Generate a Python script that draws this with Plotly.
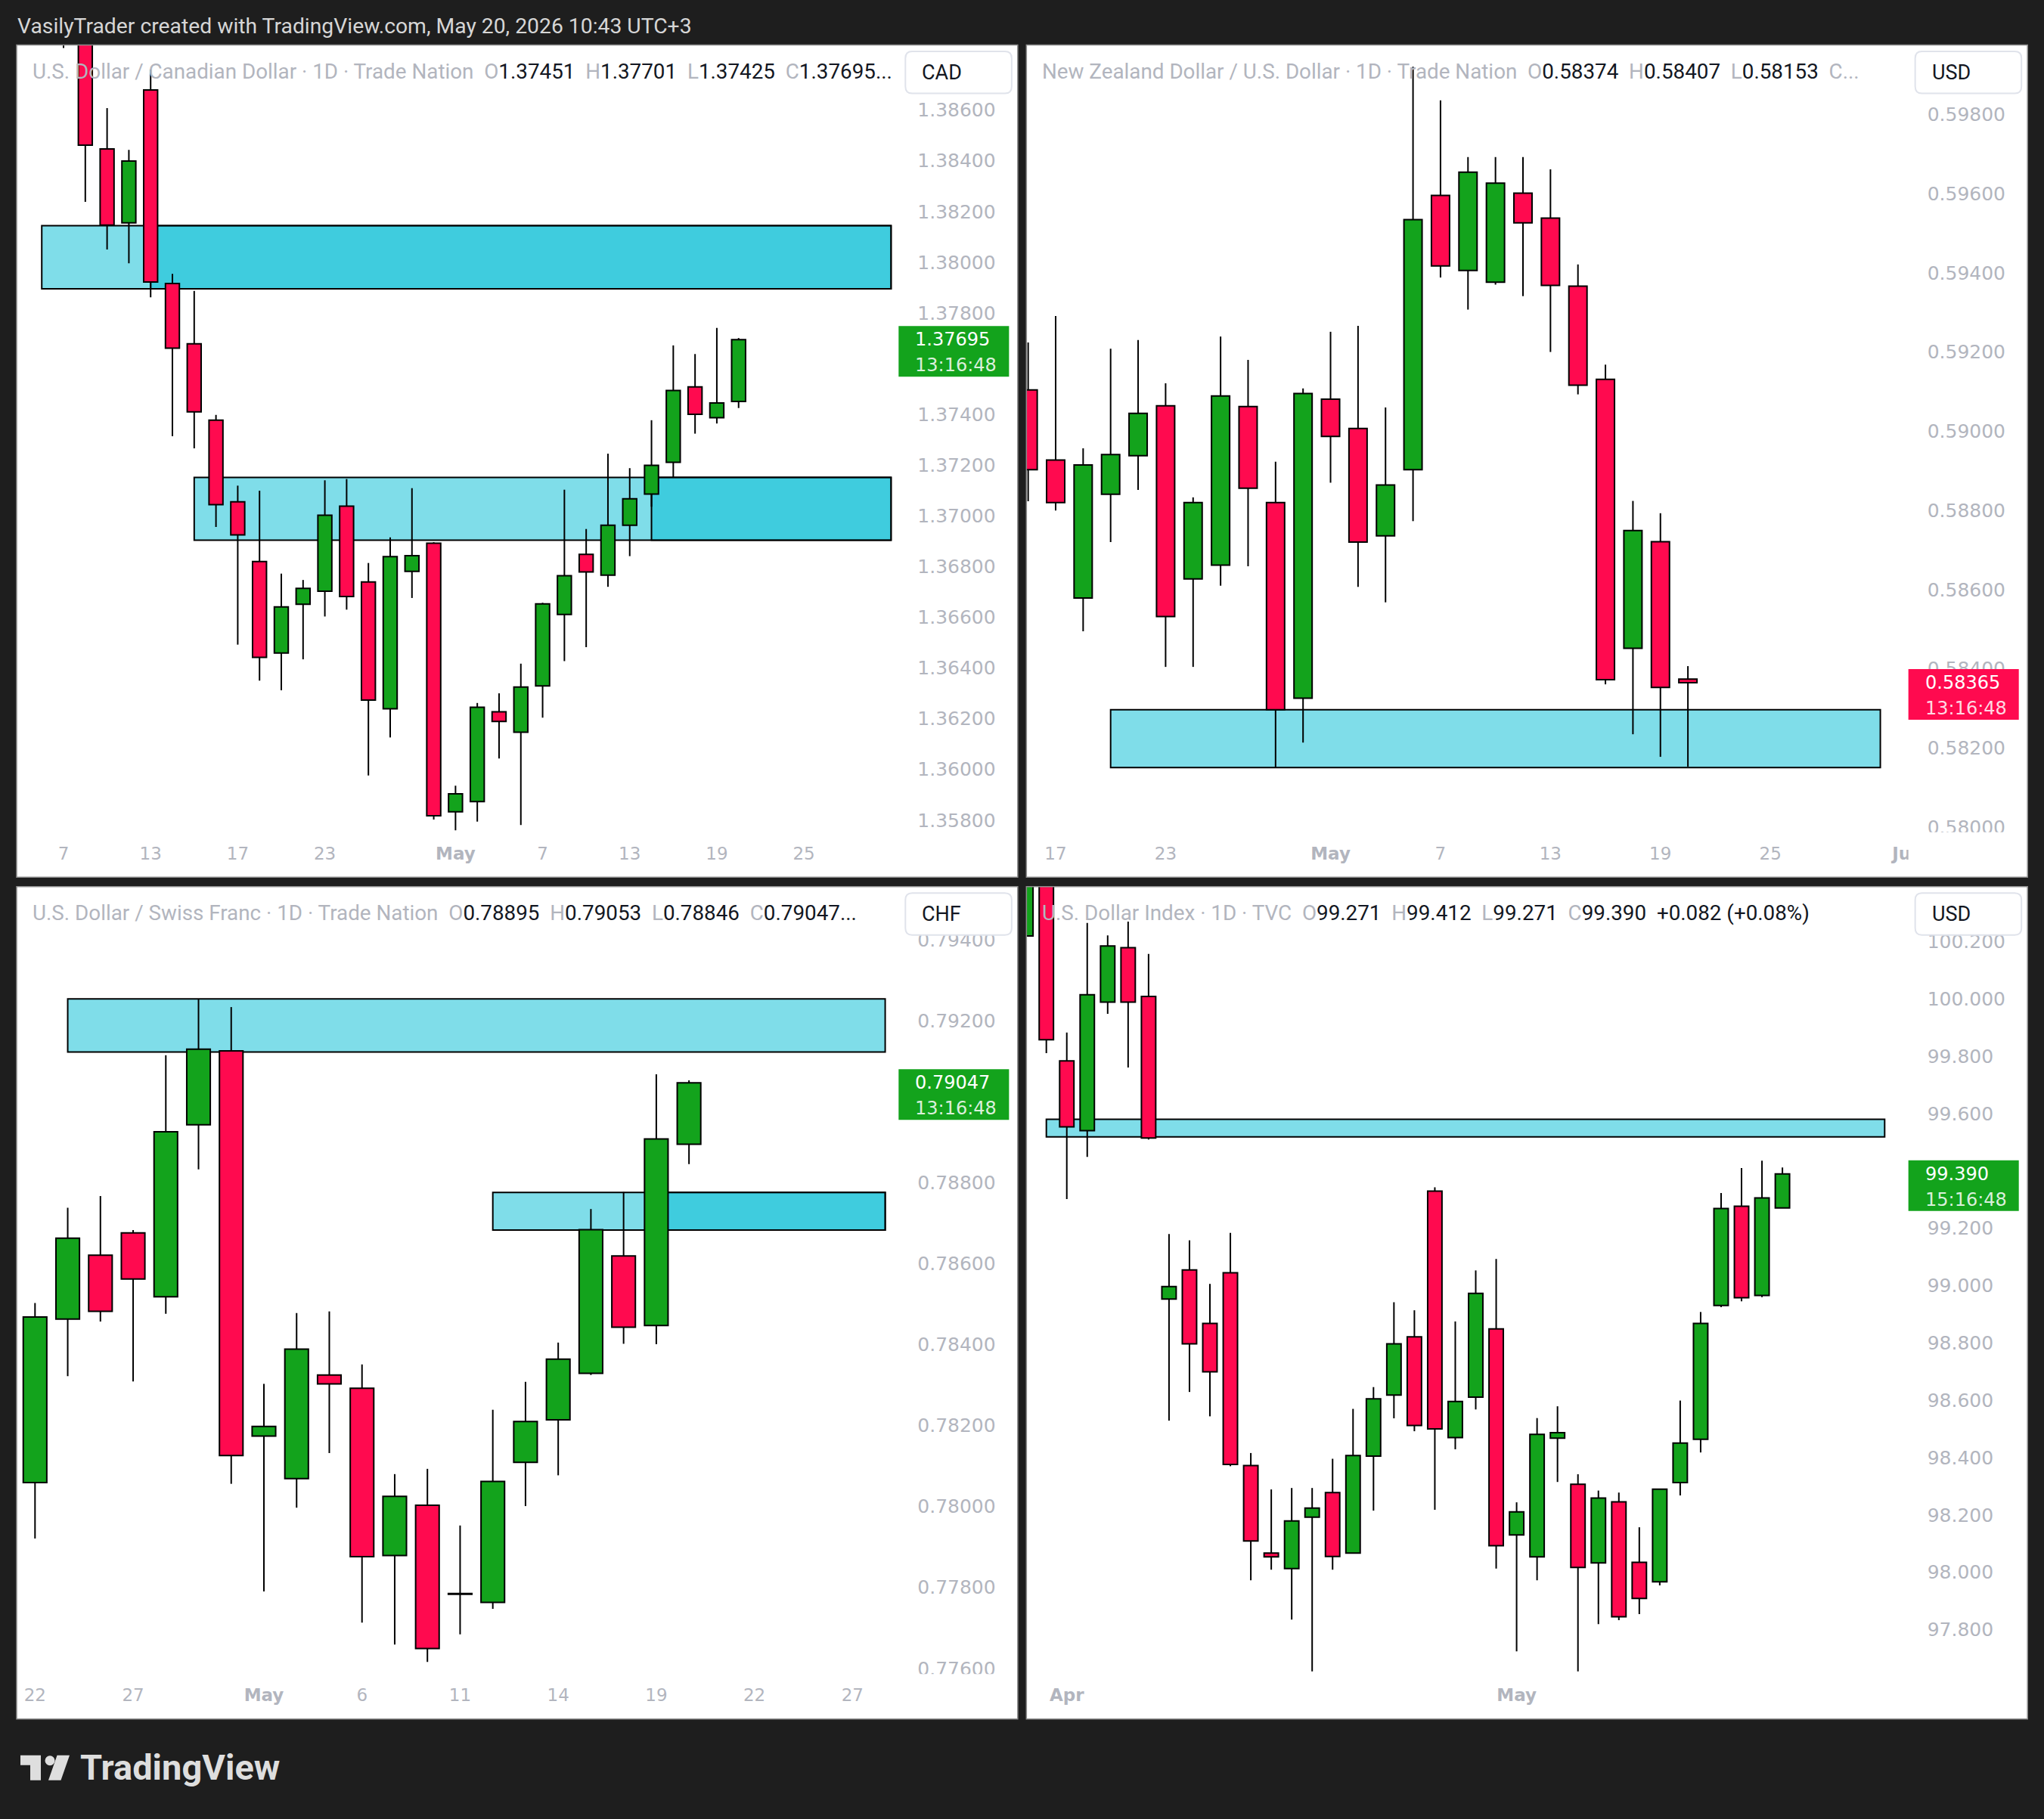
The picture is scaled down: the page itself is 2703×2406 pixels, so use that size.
import numpy as np
import plotly.graph_objects as go

# ====================== DATA ======================
# ---- USD/CAD (1D) ----
CAD_DATES = ["2026-04-07", "2026-04-08", "2026-04-09", "2026-04-10", "2026-04-13", "2026-04-14",
             "2026-04-15", "2026-04-16", "2026-04-17", "2026-04-20", "2026-04-21", "2026-04-22",
             "2026-04-23", "2026-04-24", "2026-04-27", "2026-04-28", "2026-04-29", "2026-04-30",
             "2026-05-01", "2026-05-04", "2026-05-05", "2026-05-06", "2026-05-07", "2026-05-08",
             "2026-05-11", "2026-05-12", "2026-05-13", "2026-05-14", "2026-05-15", "2026-05-18",
             "2026-05-19", "2026-05-20"]
CAD_OPEN = [1.39020, 1.38950, 1.38447, 1.38155, 1.38679, 1.37916, 1.37678, 1.37377, 1.37055, 1.36820,
            1.36459, 1.36651, 1.36703, 1.37038, 1.36739, 1.36239, 1.36781, 1.36892, 1.35833, 1.35873,
            1.36227, 1.36147, 1.36329, 1.36611, 1.36848, 1.36766, 1.36963, 1.37086, 1.37211, 1.37508,
            1.37387, 1.37451]
CAD_HIGH = [1.39150, 1.39050, 1.38608, 1.38443, 1.38760, 1.37954, 1.37887, 1.37398, 1.37119, 1.37099,
            1.36772, 1.36747, 1.37140, 1.37145, 1.36814, 1.36915, 1.37109, 1.36896, 1.35936, 1.36262,
            1.36300, 1.36417, 1.36657, 1.37103, 1.36948, 1.37245, 1.37188, 1.37377, 1.37672, 1.37638,
            1.37741, 1.37701]
CAD_LOW = [1.38845, 1.38238, 1.38050, 1.37996, 1.37862, 1.37314, 1.37266, 1.36956, 1.36492, 1.36350,
           1.36312, 1.36434, 1.36603, 1.36630, 1.35976, 1.36126, 1.36676, 1.35802, 1.35760, 1.35794,
           1.36043, 1.35781, 1.36204, 1.36427, 1.36482, 1.36720, 1.36841, 1.37036, 1.37151, 1.37324,
           1.37364, 1.37425]
CAD_CLOSE = [1.38960, 1.38462, 1.38146, 1.38399, 1.37922, 1.37661, 1.37410, 1.37044, 1.36925, 1.36442,
             1.36641, 1.36714, 1.37002, 1.36682, 1.36273, 1.36839, 1.36843, 1.35817, 1.35904, 1.36245,
             1.36189, 1.36325, 1.36653, 1.36764, 1.36779, 1.36963, 1.37067, 1.37199, 1.37494, 1.37400,
             1.37445, 1.37695]
CAD_ZONE_START = ["2026-04-06", "2026-04-13", "2026-04-15", "2026-05-14"]
CAD_ZONE_END = ["2026-05-29", "2026-05-29", "2026-05-29", "2026-05-29"]
CAD_ZONE_LOW = [1.37895, 1.37895, 1.36904, 1.36904]
CAD_ZONE_HIGH = [1.38144, 1.38144, 1.37151, 1.37151]
CAD_XTICK_DATES = ["2026-04-07", "2026-04-13", "2026-04-17", "2026-04-23", "2026-05-01",
                   "2026-05-07", "2026-05-13", "2026-05-19", "2026-05-25"]
CAD_XTICK_TEXT = ["7", "13", "17", "23", "<b>May</b>", "7", "13", "19", "25"]
CAD_YTICKS = [1.358, 1.360, 1.362, 1.364, 1.366, 1.368, 1.370, 1.372, 1.374,
              1.378, 1.380, 1.382, 1.384, 1.386]

# ---- NZD/USD (1D) ----
NZD_DATES = ["2026-04-16", "2026-04-17", "2026-04-20", "2026-04-21", "2026-04-22", "2026-04-23",
             "2026-04-24", "2026-04-27", "2026-04-28", "2026-04-29", "2026-04-30", "2026-05-01",
             "2026-05-04", "2026-05-05", "2026-05-06", "2026-05-07", "2026-05-08", "2026-05-11",
             "2026-05-12", "2026-05-13", "2026-05-14", "2026-05-15", "2026-05-18", "2026-05-19",
             "2026-05-20"]
NZD_OPEN = [0.59104, 0.58927, 0.58579, 0.58841, 0.58938, 0.59064, 0.58627, 0.58662, 0.59062, 0.58820,
            0.58326, 0.59081, 0.59007, 0.58736, 0.58903, 0.59595, 0.59406, 0.59376, 0.59601, 0.59538,
            0.59366, 0.59131, 0.58452, 0.58721, 0.58374]
NZD_HIGH = [0.59224, 0.59291, 0.58957, 0.59208, 0.59230, 0.59121, 0.58833, 0.59239, 0.59180, 0.58923,
            0.59108, 0.59251, 0.59266, 0.59060, 0.59920, 0.59835, 0.59692, 0.59692, 0.59692, 0.59661,
            0.59421, 0.59168, 0.58824, 0.58793, 0.58407]
NZD_LOW = [0.58823, 0.58800, 0.58495, 0.58720, 0.58852, 0.58405, 0.58405, 0.58610, 0.58659, 0.58151,
           0.58214, 0.58870, 0.58607, 0.58568, 0.58773, 0.59388, 0.59307, 0.59370, 0.59341, 0.59200,
           0.59093, 0.58361, 0.58235, 0.58178, 0.58153]
NZD_CLOSE = [0.58903, 0.58820, 0.58915, 0.58941, 0.59045, 0.58532, 0.58820, 0.59089, 0.58856, 0.58297,
             0.59095, 0.58987, 0.58720, 0.58864, 0.59534, 0.59417, 0.59654, 0.59626, 0.59526, 0.59368,
             0.59116, 0.58373, 0.58749, 0.58353, 0.58365]
NZD_ZONE_START = ["2026-04-21"]
NZD_ZONE_END = ["2026-05-29"]
NZD_ZONE_LOW = [0.58151]
NZD_ZONE_HIGH = [0.58297]
NZD_XTICK_DATES = ["2026-04-17", "2026-04-23", "2026-05-01", "2026-05-07", "2026-05-13",
                   "2026-05-19", "2026-05-25", "2026-06-01"]
NZD_XTICK_TEXT = ["17", "23", "<b>May</b>", "7", "13", "19", "25", "<b>Jun</b>"]
NZD_YTICKS = [0.580, 0.582, 0.584, 0.586, 0.588, 0.590, 0.592, 0.594, 0.596, 0.598]

# ---- USD/CHF (1D) ----
CHF_DATES = ["2026-04-22", "2026-04-23", "2026-04-24", "2026-04-27", "2026-04-28", "2026-04-29",
             "2026-04-30", "2026-05-01", "2026-05-04", "2026-05-05", "2026-05-06", "2026-05-07",
             "2026-05-08", "2026-05-11", "2026-05-12", "2026-05-13", "2026-05-14", "2026-05-15",
             "2026-05-18", "2026-05-19", "2026-05-20"]
CHF_OPEN = [0.78059, 0.78463, 0.78621, 0.78676, 0.78518, 0.78943, 0.79126, 0.78174, 0.78069, 0.78325,
            0.78292, 0.77879, 0.78003, 0.77783, 0.77763, 0.78109, 0.78214, 0.78329, 0.78619, 0.78447,
            0.78895]
CHF_HIGH = [0.78503, 0.78738, 0.78767, 0.78683, 0.79115, 0.79254, 0.79234, 0.78303, 0.78478, 0.78482,
            0.78351, 0.78080, 0.78093, 0.77953, 0.78239, 0.78308, 0.78405, 0.78735, 0.78777, 0.79068,
            0.79053]
CHF_LOW = [0.77921, 0.78322, 0.78457, 0.78309, 0.78476, 0.78833, 0.78056, 0.77790, 0.77997, 0.78132,
           0.77713, 0.77659, 0.77616, 0.77684, 0.77747, 0.78001, 0.78077, 0.78325, 0.78402, 0.78401,
           0.78846]
CHF_CLOSE = [0.78468, 0.78663, 0.78482, 0.78562, 0.78926, 0.79130, 0.78126, 0.78198, 0.78389, 0.78303,
             0.77876, 0.78025, 0.77649, 0.77783, 0.78062, 0.78210, 0.78364, 0.78684, 0.78443, 0.78908,
             0.79047]
CHF_ZONE_START = ["2026-04-23", "2026-05-12", "2026-05-19"]
CHF_ZONE_END = ["2026-05-28", "2026-05-28", "2026-05-28"]
CHF_ZONE_LOW = [0.79123, 0.78683, 0.78683]
CHF_ZONE_HIGH = [0.79254, 0.78776, 0.78776]
CHF_XTICK_DATES = ["2026-04-22", "2026-04-27", "2026-05-01", "2026-05-06", "2026-05-11",
                   "2026-05-14", "2026-05-19", "2026-05-22", "2026-05-27"]
CHF_XTICK_TEXT = ["22", "27", "<b>May</b>", "6", "11", "14", "19", "22", "27"]
CHF_YTICKS = [0.776, 0.778, 0.780, 0.782, 0.784, 0.786, 0.788, 0.792, 0.794]

# ---- U.S. Dollar Index (1D) ----
DXY_DATES = ["2026-03-30", "2026-03-31", "2026-04-01", "2026-04-02", "2026-04-03", "2026-04-06",
             "2026-04-07", "2026-04-08", "2026-04-09", "2026-04-10", "2026-04-13", "2026-04-14",
             "2026-04-15", "2026-04-16", "2026-04-17", "2026-04-20", "2026-04-21", "2026-04-22",
             "2026-04-23", "2026-04-24", "2026-04-27", "2026-04-28", "2026-04-29", "2026-04-30",
             "2026-05-01", "2026-05-04", "2026-05-05", "2026-05-06", "2026-05-07", "2026-05-08",
             "2026-05-11", "2026-05-12", "2026-05-13", "2026-05-14", "2026-05-15", "2026-05-18",
             "2026-05-19", "2026-05-20"]
DXY_OPEN = [100.220, 100.450, 99.784, 99.541, 99.989, 100.179, 100.009, 98.953, 99.055, 98.868,
            99.045, 98.372, 98.067, 98.013, 98.192, 98.278, 98.067, 98.405, 98.618, 98.821,
            99.330, 98.470, 98.611, 98.849, 98.130, 98.054, 98.468, 98.307, 98.033, 98.246,
            98.035, 97.967, 98.313, 98.464, 98.931, 99.277, 98.966, 99.271]
DXY_HIGH = [100.550, 100.520, 99.883, 100.265, 100.222, 100.270, 100.157, 99.180, 99.158, 99.006,
            99.184, 98.416, 98.289, 98.294, 98.294, 98.396, 98.570, 98.646, 98.942, 98.914,
            99.343, 98.875, 99.053, 99.093, 98.244, 98.538, 98.579, 98.342, 98.285, 98.278,
            98.157, 98.290, 98.599, 98.908, 99.323, 99.410, 99.436, 99.412]
DXY_LOW = [100.180, 99.811, 99.302, 99.449, 99.948, 99.761, 99.510, 98.529, 98.629, 98.544,
           98.370, 97.972, 98.009, 97.835, 97.654, 98.009, 98.065, 98.215, 98.537, 98.492,
           98.218, 98.429, 98.568, 98.013, 97.724, 97.972, 98.315, 97.654, 97.819, 97.833,
           97.854, 97.954, 98.268, 98.418, 98.925, 98.945, 98.960, 99.271]
DXY_CLOSE = [100.480, 99.858, 99.554, 100.015, 100.185, 99.989, 99.515, 98.997, 98.797, 98.699,
             98.376, 98.109, 98.054, 98.179, 98.224, 98.055, 98.407, 98.605, 98.797, 98.512,
             98.500, 98.596, 98.973, 98.093, 98.211, 98.481, 98.487, 98.017, 98.259, 97.845,
             97.909, 98.290, 98.451, 98.868, 99.269, 98.958, 99.306, 99.390]
DXY_ZONE_START = ["2026-03-31"]
DXY_ZONE_END = ["2026-05-27"]
DXY_ZONE_LOW = [99.519]
DXY_ZONE_HIGH = [99.580]
DXY_XTICK_DATES = ["2026-04-01", "2026-05-01"]
DXY_XTICK_TEXT = ["<b>Apr</b>", "<b>May</b>"]
DXY_YTICKS = [97.8, 98.0, 98.2, 98.4, 98.6, 98.8, 99.0, 99.2, 99.6, 99.8, 100.0, 100.2]
DXY_CHANGE = "+0.082 (+0.08%)"

TITLES = ["U.S. Dollar / Canadian Dollar · 1D · Trade Nation",
          "New Zealand Dollar / U.S. Dollar · 1D · Trade Nation",
          "U.S. Dollar / Swiss Franc · 1D · Trade Nation",
          "U.S. Dollar Index · 1D · TVC"]
UNITS = ["CAD", "USD", "CHF", "USD"]
COUNTDOWNS = ["13:16:48", "13:16:48", "13:16:48", "15:16:48"]
HEADER_TEXT = "VasilyTrader created with TradingView.com, May 20, 2026 10:43 UTC+3"
FOOTER_TEXT = "TradingView"

# ====================== STYLE / LAYOUT ======================
# target picture coordinates (px) are mapped onto a slightly larger page,
# compensating for the screenshot's rescaling.
SX, SY = 0.9924, 0.9968
FIG_W, FIG_H = 2724, 2414
BG = "#1e1e1e"
UP = "#13a31c"
DOWN = "#ff0a4f"
INK = "#000000"
ZONE_FILL = "rgba(0,188,212,0.5)"
GREY = "#b2b5be"
TXT = "#131722"
PANEL_BORDER = "#8d8d8d"

PANEL_W, PANEL_H = 1323.5, 1101
PANE_W, PANE_H = 1166, 1041.5


def X(v):
    return (v / SX) / FIG_W


def Y(v):
    return 1 - (v / SY) / FIG_H


PANELS = [
    dict(dates=CAD_DATES, o=CAD_OPEN, h=CAD_HIGH, l=CAD_LOW, c=CAD_CLOSE,
         zs=CAD_ZONE_START, ze=CAD_ZONE_END, zl=CAD_ZONE_LOW, zh=CAD_ZONE_HIGH,
         xt=CAD_XTICK_DATES, xtt=CAD_XTICK_TEXT, yt=CAD_YTICKS, dec=5,
         left=22, top=59.5, xr=(-2.1535, 38.347), yr=(1.35752, 1.388567), bw=0.64,
         tail="full"),
    dict(dates=NZD_DATES, o=NZD_OPEN, h=NZD_HIGH, l=NZD_LOW, c=NZD_CLOSE,
         zs=NZD_ZONE_START, ze=NZD_ZONE_END, zl=NZD_ZONE_LOW, zh=NZD_ZONE_HIGH,
         xt=NZD_XTICK_DATES, xtt=NZD_XTICK_TEXT, yt=NZD_YTICKS, dec=5,
         left=1357, top=59.5, xr=(-0.063, 32.02), yr=(0.579875, 0.59975), bw=0.66,
         tail="cut"),
    dict(dates=CHF_DATES, o=CHF_OPEN, h=CHF_HIGH, l=CHF_LOW, c=CHF_CLOSE,
         zs=CHF_ZONE_START, ze=CHF_ZONE_END, zl=CHF_ZONE_LOW, zh=CHF_ZONE_HIGH,
         xt=CHF_XTICK_DATES, xtt=CHF_XTICK_TEXT, yt=CHF_YTICKS, dec=5,
         left=22, top=1173, xr=(-0.562, 26.41), yr=(0.77586, 0.795314), bw=0.72,
         tail="full"),
    dict(dates=DXY_DATES, o=DXY_OPEN, h=DXY_HIGH, l=DXY_LOW, c=DXY_CLOSE,
         zs=DXY_ZONE_START, ze=DXY_ZONE_END, zl=DXY_ZONE_LOW, zh=DXY_ZONE_HIGH,
         xt=DXY_XTICK_DATES, xtt=DXY_XTICK_TEXT, yt=DXY_YTICKS, dec=3,
         left=1357, top=1173, xr=(0.026, 43.16), yr=(97.645, 100.3916), bw=0.70,
         tail="change"),
]


def rrect_path(x0, y0, x1, y1, r):
    return (f"M{X(x0 + r)},{Y(y0)} L{X(x1 - r)},{Y(y0)} Q{X(x1)},{Y(y0)} {X(x1)},{Y(y0 + r)} "
            f"L{X(x1)},{Y(y1 - r)} Q{X(x1)},{Y(y1)} {X(x1 - r)},{Y(y1)} "
            f"L{X(x0 + r)},{Y(y1)} Q{X(x0)},{Y(y1)} {X(x0)},{Y(y1 - r)} "
            f"L{X(x0)},{Y(y0 + r)} Q{X(x0)},{Y(y0)} {X(x0 + r)},{Y(y0)} Z")


def poly_path(pts):
    return "M" + " L".join(f"{X(a)},{Y(b)}" for a, b in pts) + " Z"


def span(text, color):
    return f'<span style="color:{color}">{text}</span>'


fig = go.Figure()
layout = dict(width=FIG_W, height=FIG_H, margin=dict(l=0, r=0, t=0, b=0),
              paper_bgcolor=BG, plot_bgcolor="rgba(0,0,0,0)",
              barmode="overlay", showlegend=False, hovermode=False)
shapes_below, shapes_above, annotations = [], [], []
NB = "&nbsp;&nbsp;"

for k, P in enumerate(PANELS):
    sfx = "" if k == 0 else str(k + 1)
    xa, ya = "x" + sfx, "y" + sfx
    origin = P["dates"][0]
    xi = [int(v) for v in np.busday_count(origin, P["dates"])]
    o, h, l, c = (np.array(P[key], dtype=float) for key in ("o", "h", "l", "c"))
    btop, bbot = np.maximum(o, c), np.minimum(o, c)

    left, top = P["left"], P["top"]
    pane_r, pane_b = left + PANE_W, top + PANE_H
    right, bottom = left + PANEL_W, top + PANEL_H

    # panel background
    shapes_below.append(dict(type="rect", xref="paper", yref="paper", x0=X(left), x1=X(right),
                             y0=Y(bottom), y1=Y(top), fillcolor="#ffffff", line=dict(width=0),
                             layer="below"))

    # zones (rectangles)
    zx0 = np.busday_count(origin, P["zs"])
    zx1 = np.busday_count(origin, P["ze"])
    for a, b, lo, hi in zip(zx0, zx1, P["zl"], P["zh"]):
        shapes_below.append(dict(type="rect", xref=xa, yref=ya, x0=int(a), x1=int(b), y0=lo, y1=hi,
                                 fillcolor=ZONE_FILL, line=dict(color=INK, width=2), layer="below"))

    # wicks (above and below the body)
    wx, wy = [], []
    for i in range(len(xi)):
        wx += [xi[i], xi[i], None, xi[i], xi[i], None]
        wy += [h[i], btop[i], None, bbot[i], l[i], None]
    fig.add_trace(go.Scatter(x=wx, y=wy, mode="lines", line=dict(color=INK, width=2),
                             xaxis=xa, yaxis=ya, hoverinfo="skip"))

    # bodies
    min_h = (P["yr"][1] - P["yr"][0]) / PANE_H * 1.0
    hgt = np.maximum(btop - bbot, min_h)
    up = c >= o
    for mask, col in ((up, UP), (~up, DOWN)):
        fig.add_trace(go.Bar(x=[xi[i] for i in np.where(mask)[0]], y=hgt[mask], base=bbot[mask],
                             width=P["bw"], marker=dict(color=col, line=dict(color=INK, width=2)),
                             xaxis=xa, yaxis=ya, hoverinfo="skip"))

    # axes
    layout["xaxis" + sfx] = dict(
        domain=[X(left), X(pane_r)], range=list(P["xr"]), anchor=ya,
        showgrid=False, zeroline=False, showline=False, ticks="", tickmode="array",
        tickvals=[int(v) for v in np.busday_count(origin, P["xt"])], ticktext=P["xtt"],
        tickfont=dict(family="DejaVu Sans", size=23, color=GREY), ticklabelstandoff=12,
        fixedrange=True)
    layout["yaxis" + sfx] = dict(
        domain=[Y(pane_b), Y(top)], range=list(P["yr"]), anchor=xa, side="right",
        showgrid=False, zeroline=False, showline=False, ticks="", tickmode="array",
        tickvals=P["yt"], ticktext=[f"{v:.{P['dec']}f}" for v in P["yt"]],
        tickfont=dict(family="DejaVu Sans", size=25, color=GREY), ticklabelstandoff=24,
        fixedrange=True)

    # clip band under the price scale (time-axis row)
    shapes_above.append(dict(type="rect", xref="paper", yref="paper", x0=X(pane_r), x1=X(right - 1),
                             y0=Y(bottom - 1), y1=Y(pane_b), fillcolor="#ffffff",
                             line=dict(width=0), layer="above"))

    # last price label
    last = c[-1]
    lab_col = UP if c[-1] >= o[-1] else DOWN
    shapes_above.append(dict(type="rect", xref="paper", yref=ya, x0=X(pane_r), x1=X(pane_r + 146),
                             ysizemode="pixel", yanchor=last, y0=-49, y1=18,
                             fillcolor=lab_col, line=dict(width=0), layer="above"))
    annotations.append(dict(xref="paper", yref=ya, x=X(pane_r + 21), y=last, xanchor="left",
                            yanchor="middle", yshift=0, showarrow=False, borderpad=0,
                            text=f"{last:.{P['dec']}f}",
                            font=dict(family="DejaVu Sans", size=24, color="#ffffff")))
    annotations.append(dict(xref="paper", yref=ya, x=X(pane_r + 21), y=last, xanchor="left",
                            yanchor="middle", yshift=-34, showarrow=False, borderpad=0,
                            text=COUNTDOWNS[k],
                            font=dict(family="DejaVu Sans", size=24, color="rgba(255,255,255,0.85)")))

    # currency button
    shapes_above.append(dict(type="path", xref="paper", yref="paper",
                             path=rrect_path(pane_r + 9, top + 8.5, right - 8, top + 64, 9),
                             fillcolor="#ffffff", line=dict(color="#e0e3eb", width=2), layer="above"))
    annotations.append(dict(xref="paper", yref="paper", x=X(pane_r + 29), y=Y(top + 36.5),
                            xanchor="left", yanchor="middle", showarrow=False, text=UNITS[k],
                            font=dict(family="Roboto", size=27, color=TXT)))

    # legend line
    dec = P["dec"]
    fmt = lambda v: f"{v:.{dec}f}"
    legend = (span(TITLES[k] + NB + "O", GREY) + fmt(o[-1]) + span(NB + "H", GREY) + fmt(h[-1])
              + span(NB + "L", GREY) + fmt(l[-1]))
    if P["tail"] == "full":
        legend += span(NB + "C", GREY) + fmt(c[-1]) + "..."
    elif P["tail"] == "cut":
        legend += span(NB + "C...", GREY)
    else:
        legend += span(NB + "C", GREY) + fmt(c[-1]) + NB + DXY_CHANGE
    annotations.append(dict(xref="paper", yref="paper", x=X(left + 18.5), y=Y(top + 35),
                            xanchor="left", yanchor="middle", showarrow=False, text=legend,
                            font=dict(family="Roboto", size=27.8, color=TXT)))

    # panel border
    shapes_above.append(dict(type="rect", xref="paper", yref="paper", x0=X(left), x1=X(right),
                             y0=Y(bottom), y1=Y(top), line=dict(color=PANEL_BORDER, width=1.5),
                             fillcolor="rgba(0,0,0,0)", layer="above"))

# header and footer
annotations.append(dict(xref="paper", yref="paper", x=X(21), y=Y(35), xanchor="left", yanchor="middle",
                        showarrow=False, text=HEADER_TEXT,
                        font=dict(family="Roboto", size=28.3, color="#d6d6d6")))
LOGO = "#dedede"
shapes_above.append(dict(type="path", xref="paper", yref="paper",
                         path=poly_path([(27, 2322), (54, 2322), (54, 2355), (40, 2355), (40, 2335), (27, 2335)]),
                         fillcolor=LOGO, line=dict(width=0), layer="above"))
shapes_above.append(dict(type="circle", xref="paper", yref="paper", x0=X(59.5), x1=X(72.5),
                         y0=Y(2335.5), y1=Y(2322.5), fillcolor=LOGO, line=dict(width=0), layer="above"))
shapes_above.append(dict(type="path", xref="paper", yref="paper",
                         path=poly_path([(75.5, 2322), (92, 2322), (80.5, 2355), (64, 2355)]),
                         fillcolor=LOGO, line=dict(width=0), layer="above"))
annotations.append(dict(xref="paper", yref="paper", x=X(104), y=Y(2338), xanchor="left", yanchor="middle",
                        showarrow=False, text=FOOTER_TEXT,
                        font=dict(family="Roboto", size=47, color=LOGO, weight=700)))

layout["shapes"] = shapes_below + shapes_above
layout["annotations"] = annotations
fig.update_layout(**layout)
fig.write_html("out.html", config={"displayModeBar": False, "responsive": False},
               post_script="document.body.style.margin='0';document.body.style.padding='0';"
                           "document.body.style.background='#1e1e1e';"
                           "document.documentElement.style.background='#1e1e1e';"
                           "document.documentElement.style.overflow='hidden';")
